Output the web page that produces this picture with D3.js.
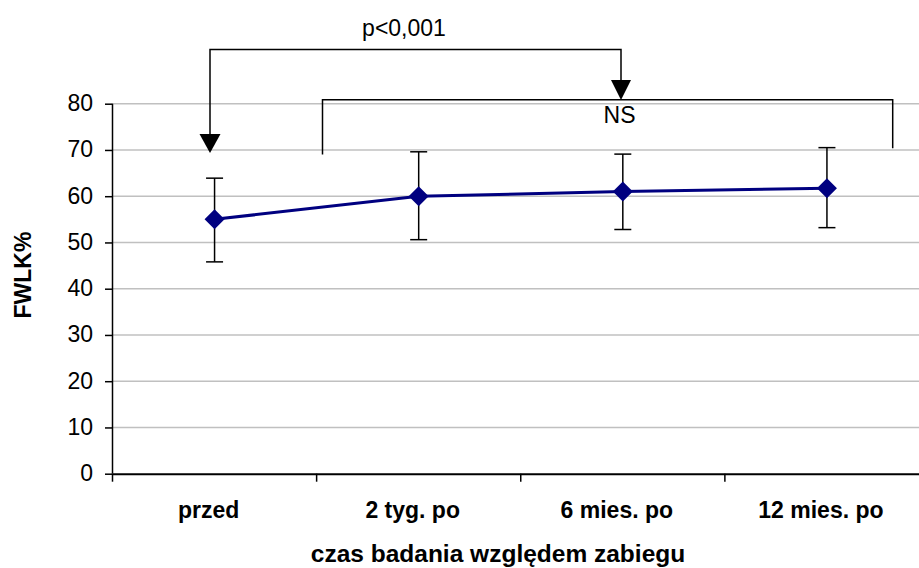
<!DOCTYPE html>
<html><head><meta charset="utf-8">
<script src="https://cdn.jsdelivr.net/npm/d3@7"></script>
<style>body{margin:0;background:#fff;overflow:hidden}svg{display:block;font-family:"Liberation Sans",Arial,sans-serif}</style>
</head><body>
<svg id="c" width="919" height="568"></svg>
<script>
const categories = ["przed", "2 tyg. po", "6 mies. po", "12 mies. po"];
const means = [55.0, 60.0, 61.0, 61.7];
const upper = [63.9, 69.6, 69.1, 70.5];
const lower = [45.8, 50.6, 52.8, 53.2];
const yTicks = [0, 10, 20, 30, 40, 50, 60, 70, 80];

const svg = d3.select("#c");
const x = d3.scaleBand().domain(categories).range([112.5, 929]);
const y = d3.scaleLinear().domain([0, 80]).range([473.7, 103.7]);
const cx = c => x(c) + x.bandwidth() / 2;
const FS = 23;

// gridlines
svg.append("g").selectAll("line").data(yTicks.filter(d => d > 0)).join("line")
  .attr("x1", 112.5).attr("x2", 929).attr("y1", d => y(d)).attr("y2", d => y(d))
  .attr("stroke", "#c0c0c0").attr("stroke-width", 1.5);

// y axis
const ya = svg.append("g").attr("transform", "translate(112.5,0)")
  .call(d3.axisLeft(y).tickValues(yTicks).tickSize(7.5).tickPadding(12));
ya.select(".domain").attr("stroke", "#000").attr("stroke-width", 1.5).attr("d", `M0,${y(80)}V${y(0)}`);
ya.selectAll(".tick line").attr("stroke", "#000").attr("stroke-width", 1.5);
ya.selectAll(".tick text").attr("font-size", FS).attr("fill", "#000").attr("font-family", "Liberation Sans, Arial").attr("dy", "0.3em");

// x axis
const xa = svg.append("g").attr("transform", `translate(0,${y(0)})`)
  .call(d3.axisBottom(x).tickSize(0).tickPadding(28));
xa.select(".domain").attr("stroke", "#000").attr("stroke-width", 2);
xa.selectAll(".tick text").attr("font-size", FS).attr("font-weight", "bold").attr("fill", "#000")
  .attr("font-family", "Liberation Sans, Arial").attr("dx", -6);
const bounds = categories.map(c => x(c)).concat([x(categories[3]) + x.bandwidth()]);
svg.append("g").selectAll("line").data(bounds).join("line")
  .attr("x1", d => d).attr("x2", d => d).attr("y1", y(0)).attr("y2", y(0) + 8)
  .attr("stroke", "#000").attr("stroke-width", 1.5);

// axis titles
svg.append("text").attr("x", 498).attr("y", 561.5).attr("text-anchor", "middle")
  .attr("font-size", 24.5).attr("font-weight", "bold").text("czas badania względem zabiegu");
svg.append("text").attr("transform", "translate(31,275) rotate(-90)").attr("text-anchor", "middle")
  .attr("font-size", FS).attr("font-weight", "bold").text("FWLK%");

// error bars
const eb = svg.append("g").attr("stroke", "#000").attr("stroke-width", 1.5);
categories.forEach((c, i) => {
  eb.append("line").attr("x1", cx(c)).attr("x2", cx(c)).attr("y1", y(upper[i])).attr("y2", y(lower[i]));
  eb.append("line").attr("x1", cx(c) - 8.5).attr("x2", cx(c) + 8.5).attr("y1", y(upper[i])).attr("y2", y(upper[i]));
  eb.append("line").attr("x1", cx(c) - 8.5).attr("x2", cx(c) + 8.5).attr("y1", y(lower[i])).attr("y2", y(lower[i]));
});

// line
svg.append("path").datum(means)
  .attr("d", d3.line().x((d, i) => cx(categories[i])).y(d => y(d)))
  .attr("fill", "none").attr("stroke", "#000080").attr("stroke-width", 3);
svg.append("g").selectAll("path").data(means).join("path")
  .attr("transform", (d, i) => `translate(${cx(categories[i])},${y(d)})`)
  .attr("d", "M0,-10L10,0L0,10L-10,0Z").attr("fill", "#000080");

// annotations
const ann = svg.append("g").attr("fill", "none").attr("stroke", "#000").attr("stroke-width", 1.5);
const xL = 210, xR = 621, topY = 49.5;
ann.append("path").attr("d", `M${xL},134V${topY}H${xR}V81`);
svg.append("path").attr("d", `M${xL - 10.5},134L${xL + 10.5},134L${xL},153Z`).attr("fill", "#000");
svg.append("path").attr("d", `M${xR - 10},80L${xR + 10},80L${xR},100Z`).attr("fill", "#000");
ann.append("path").attr("d", `M322.5,154.5V99.7H892.7V148.3`);
svg.append("text").attr("x", 404).attr("y", 36).attr("text-anchor", "middle").attr("font-size", FS).text("p<0,001");
svg.append("text").attr("x", 619.5).attr("y", 123).attr("text-anchor", "middle").attr("font-size", FS).text("NS");
</script>
</body></html>
